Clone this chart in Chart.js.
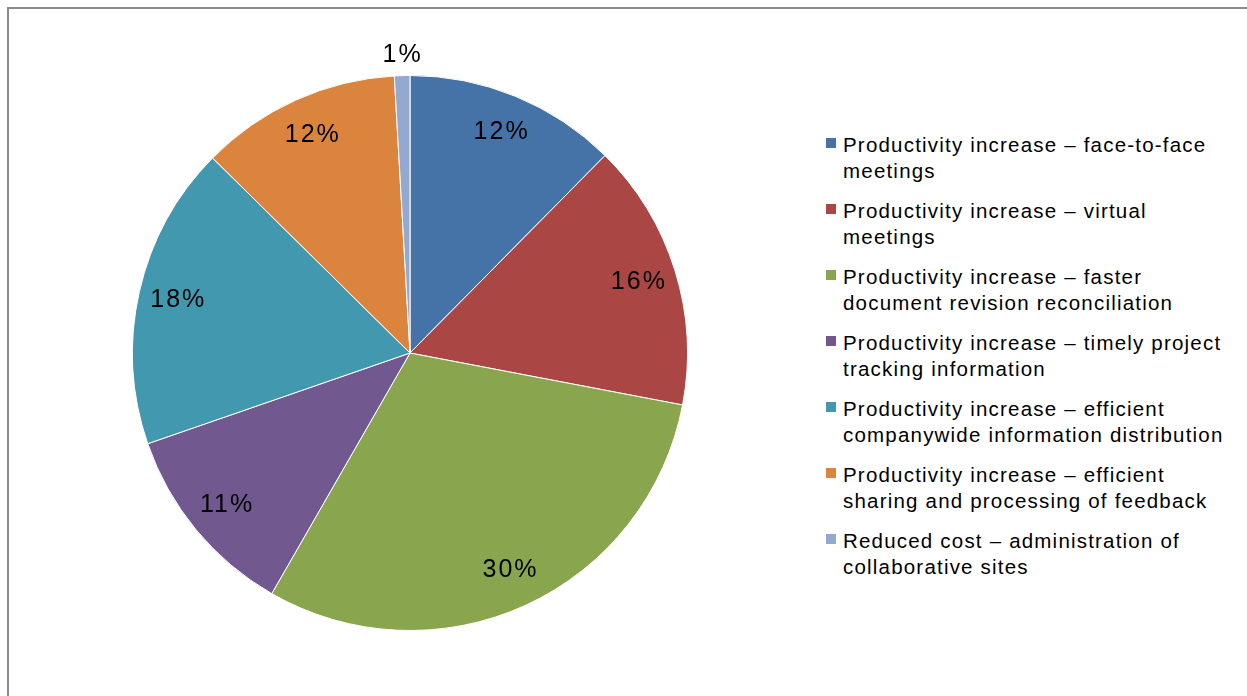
<!DOCTYPE html>
<html>
<head>
<meta charset="utf-8">
<script src="https://cdn.jsdelivr.net/npm/chart.js@4.4.0/dist/chart.umd.min.js"></script>
<style>
  body { margin: 0; background: #fff; font-family: "Liberation Sans", Arial, sans-serif; }
  #frame { position: absolute; left: 7px; top: 7px; width: 1260px; height: 720px; border-left: 2px solid #8c8c8c; border-top: 2px solid #8c8c8c; }
  #wrap { position: absolute; left: 0; top: 0; width: 820px; height: 696px; }
  #legend { position: absolute; left: 826px; top: 132px; width: 420px; }
  .item { position: relative; padding-left: 17px; font-size: 20.5px; letter-spacing: 1.2px; line-height: 26px; color: #000; margin-bottom: 14px; white-space: nowrap; }
  .item span.sw { position: absolute; left: 0; top: 6px; width: 10px; height: 10px; }
</style>
</head>
<body>
<div id="frame"></div>
<div id="wrap"><canvas id="pie"></canvas></div>
<div id="legend"></div>
<script>
// categories (legend text, with line breaks as in the picture)
const categories = [
  ["Productivity increase \u2013 face-to-face", "meetings"],
  ["Productivity increase \u2013 virtual", "meetings"],
  ["Productivity increase \u2013 faster", "document revision reconciliation"],
  ["Productivity increase \u2013 timely project", "tracking information"],
  ["Productivity increase \u2013 efficient", "companywide information distribution"],
  ["Productivity increase \u2013 efficient", "sharing and processing of feedback"],
  ["Reduced cost \u2013 administration of", "collaborative sites"]
];
// share of each slice, percent
const shares = [12.4, 15.6, 30.3, 11.4, 17.7, 11.7, 0.9];
const colors = ["#4572A7", "#AA4643", "#89A54E", "#71588F", "#4198AF", "#DB843D", "#93A9CF"];

// legend
const legend = document.getElementById("legend");
categories.forEach((lines, i) => {
  const d = document.createElement("div");
  d.className = "item";
  d.innerHTML = `<span class="sw" style="background:${colors[i]}"></span>${lines.join("<br>")}`;
  legend.appendChild(d);
});

// percent labels on slices
const sliceLabels = {
  id: "sliceLabels",
  afterDatasetsDraw(chart) {
    const ctx = chart.ctx;
    const meta = chart.getDatasetMeta(0);
    ctx.save();
    ctx.font = '25px "Liberation Sans", Arial, sans-serif';
    ctx.letterSpacing = "2px";
    ctx.fillStyle = "#000";
    ctx.textAlign = "center";
    ctx.textBaseline = "middle";
    meta.data.forEach((arc, i) => {
      const mid = (arc.startAngle + arc.endAngle) / 2;
      const r = shares[i] < 3 ? arc.outerRadius * 1.075 : arc.outerRadius * 0.86;
      const x = arc.x + Math.cos(mid) * r + 1;
      const y = arc.y + Math.sin(mid) * r;
      ctx.fillText(Math.round(shares[i]) + "%", x, y);
    });
    ctx.restore();
  }
};

new Chart(document.getElementById("pie"), {
  type: "pie",
  data: {
    labels: categories.map(l => l.join(" ")),
    datasets: [{
      data: shares,
      backgroundColor: colors,
      borderColor: "#fff",
      borderWidth: 1
    }]
  },
  options: {
    responsive: true,
    maintainAspectRatio: false,
    animation: false,
    layout: { padding: { left: 132, right: 132, top: 75, bottom: 65 } },
    plugins: { legend: { display: false }, tooltip: { enabled: false } }
  },
  plugins: [sliceLabels]
});
</script>
</body>
</html>
